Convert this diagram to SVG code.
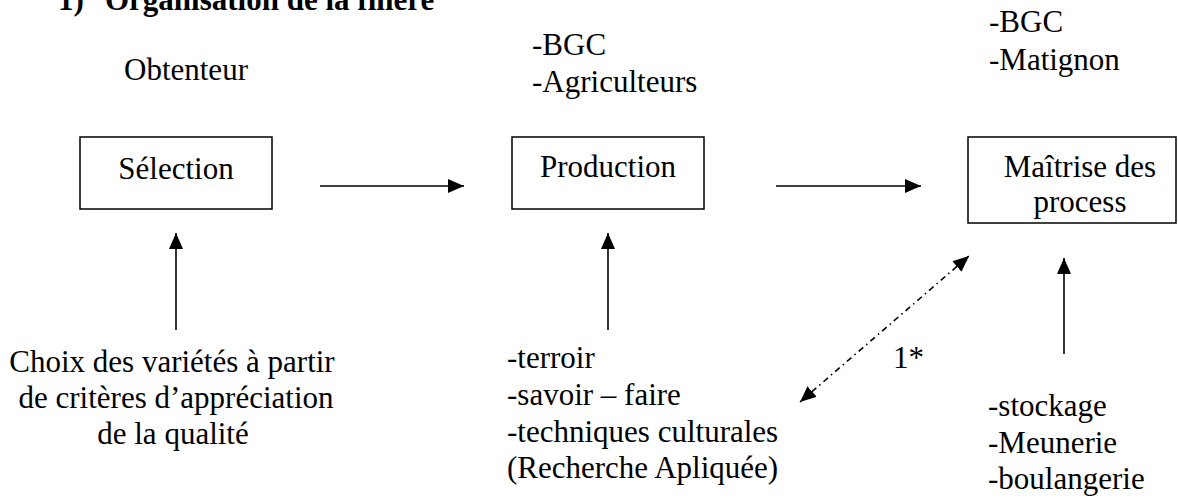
<svg xmlns="http://www.w3.org/2000/svg" width="1178" height="498" viewBox="0 0 1178 498">
<defs>
<style>
text{font-family:"Liberation Serif","Times New Roman",serif;font-size:31px;fill:#000}
.b{font-weight:bold}
.box{fill:#fff;stroke:#000;stroke-width:1.5}
.ln{stroke:#000;stroke-width:1.6;fill:none}
.dd{stroke:#000;stroke-width:1.6;fill:none;stroke-dasharray:6 4 1.5 4}
.m{text-anchor:middle}
</style>
<marker id="ah" viewBox="0 0 16 14" refX="16" refY="7" markerWidth="16" markerHeight="14" markerUnits="userSpaceOnUse" orient="auto-start-reverse">
<path d="M0,0 L16,7 L0,14 Z" fill="#000"/>
</marker>
</defs>
<rect width="1178" height="498" fill="#fff"/>
<g id="title">
<text class="b" x="58" y="10">1)</text>
<text class="b" x="105" y="10">Organisation de la filière</text>
</g>
<g id="labels">
<text x="124" y="80">Obtenteur</text>
<text x="532" y="55">-BGC</text>
<text x="532" y="92">-Agriculteurs</text>
<text x="989" y="32">-BGC</text>
<text x="989" y="70">-Matignon</text>
</g>
<g id="selection">
<rect class="box" x="80" y="137" width="192" height="72"/>
<text class="m" x="176" y="179">Sélection</text>
</g>
<g id="production">
<rect class="box" x="512" y="137" width="192" height="72"/>
<text class="m" x="608" y="177">Production</text>
</g>
<g id="maitrise">
<rect class="box" x="968" y="137" width="208" height="86"/>
<text class="m" x="1080" y="177">Maîtrise des</text>
<text class="m" x="1080" y="212">process</text>
</g>
<g id="choix">
<text class="m" x="172" y="372">Choix des variétés à partir</text>
<text class="m" x="176" y="408">de critères d’appréciation</text>
<text class="m" x="173" y="444">de la qualité</text>
</g>
<g id="facteurs">
<text x="507" y="368">-terroir</text>
<text x="507" y="405">-savoir – faire</text>
<text x="507" y="442">-techniques culturales</text>
<text x="507" y="478">(Recherche Apliquée)</text>
</g>
<g id="aval">
<text x="988" y="416">-stockage</text>
<text x="988" y="453">-Meunerie</text>
<text x="988" y="489">-boulangerie</text>
</g>
<g id="connectors">
<line class="ln" x1="320" y1="186" x2="464" y2="186" marker-end="url(#ah)"/>
<line class="ln" x1="776" y1="186" x2="921" y2="186" marker-end="url(#ah)"/>
<line class="ln" x1="176" y1="330" x2="176" y2="233" marker-end="url(#ah)"/>
<line class="ln" x1="608" y1="330" x2="608" y2="233" marker-end="url(#ah)"/>
<line class="ln" x1="1064" y1="354" x2="1064" y2="258" marker-end="url(#ah)"/>
<line class="dd" x1="800" y1="402" x2="969" y2="256" marker-start="url(#ah)" marker-end="url(#ah)"/>
<text x="893" y="368">1*</text>
</g>
</svg>
